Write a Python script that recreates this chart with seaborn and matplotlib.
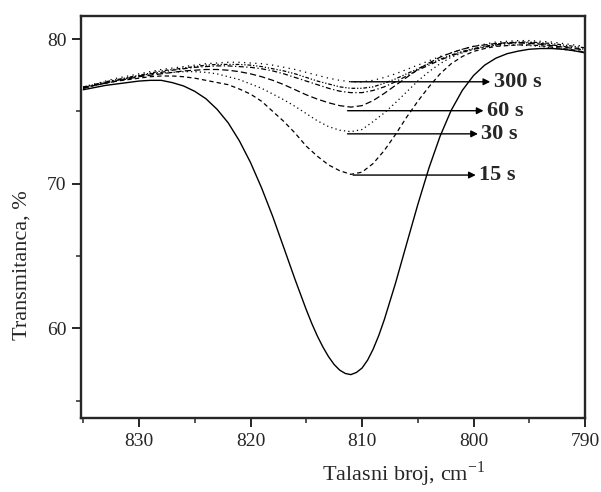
import numpy as np
import pandas as pd
import matplotlib
matplotlib.use("Agg")
import matplotlib.pyplot as plt
from matplotlib.ticker import MultipleLocator
import seaborn as sns

# wavenumber grid, cm^-1 (835 -> 790)
wavenumber = np.arange(835, 789, -1)

# solid curve (0 s) has a few extra points around its minimum
wavenumber_0s = [835, 834, 833, 832, 831, 830, 829, 828, 827, 826,
                 825, 824, 823, 822, 821, 820, 819, 818, 817, 816,
                 815, 814.5, 814, 813.5, 813, 812.5, 812, 811.5, 811, 810.5,
                 810, 809.5, 809, 808.5, 808, 807, 806, 805, 804, 803,
                 802, 801, 800, 799, 798, 797, 796, 795, 794, 793,
                 792, 791, 790]
t_0s = [76.5, 76.65, 76.8, 76.9, 77.0, 77.1, 77.15, 77.15, 76.99, 76.76,
        76.39, 75.88, 75.15, 74.21, 72.97, 71.47, 69.70, 67.72, 65.55, 63.37,
        61.29, 60.33, 59.46, 58.7, 58.04, 57.5, 57.11, 56.88, 56.8, 56.95,
        57.25, 57.8, 58.56, 59.5, 60.60, 63.11, 65.84, 68.55, 71.08, 73.28,
        75.08, 76.46, 77.48, 78.20, 78.68, 78.99, 79.17, 79.3, 79.35, 79.35,
        79.3, 79.2, 79.05]

# transmittance (%)
t_15s = [76.6, 76.8, 76.95, 77.1, 77.2, 77.3, 77.4, 77.45, 77.45, 77.4,
         77.3, 77.15, 77.0, 76.85, 76.55, 76.2, 75.7, 75.0, 74.3, 73.5,
         72.6, 71.9, 71.3, 70.9, 70.65,
         70.8, 71.4, 72.3, 73.4, 74.6, 75.7, 76.7, 77.6, 78.3, 78.8,
         79.15, 79.35, 79.5, 79.55, 79.6, 79.6, 79.55, 79.45, 79.35, 79.25, 79.1]
t_30s = [76.6, 76.8, 77.0, 77.15, 77.3, 77.45, 77.55, 77.65, 77.7, 77.75,
         77.75, 77.7, 77.6, 77.4, 77.2, 76.9, 76.6, 76.2, 75.8, 75.35,
         74.85, 74.35, 73.95, 73.7, 73.6,
         73.75, 74.3, 74.9, 75.6, 76.35, 77.1, 77.75, 78.3, 78.75, 79.05,
         79.3, 79.45, 79.55, 79.6, 79.6, 79.55, 79.5, 79.4, 79.3, 79.2, 79.1]
t_60s = [76.6, 76.8, 76.95, 77.1, 77.25, 77.4, 77.5, 77.6, 77.7, 77.8,
         77.85, 77.9, 77.9, 77.85, 77.75, 77.6, 77.4, 77.15, 76.85, 76.5,
         76.15, 75.85, 75.6, 75.4, 75.3,
         75.4, 75.75, 76.25, 76.8, 77.35, 77.9, 78.35, 78.75, 79.05, 79.3,
         79.5, 79.6, 79.7, 79.75, 79.75, 79.7, 79.65, 79.55, 79.45, 79.35, 79.25]
t_120s = [76.65, 76.85, 77.0, 77.15, 77.3, 77.45, 77.6, 77.7, 77.85, 77.95,
          78.05, 78.1, 78.15, 78.15, 78.1, 78.05, 77.95, 77.8, 77.6, 77.35,
          77.1, 76.85, 76.6, 76.4, 76.3,
          76.3, 76.45, 76.7, 77.05, 77.45, 77.85, 78.2, 78.55, 78.85, 79.1,
          79.3, 79.45, 79.6, 79.7, 79.75, 79.75, 79.7, 79.6, 79.5, 79.4, 79.3]
t_180s = [76.7, 76.85, 77.05, 77.2, 77.35, 77.5, 77.65, 77.8, 77.9, 78.0,
          78.1, 78.2, 78.25, 78.25, 78.25, 78.2, 78.1, 77.95, 77.8, 77.6,
          77.35, 77.1, 76.9, 76.7, 76.6,
          76.6, 76.7, 76.95, 77.25, 77.6, 77.95, 78.3, 78.6, 78.9, 79.15,
          79.35, 79.5, 79.65, 79.75, 79.8, 79.8, 79.75, 79.7, 79.6, 79.5, 79.4]
t_300s = [76.7, 76.9, 77.1, 77.3, 77.45, 77.6, 77.75, 77.9, 78.0, 78.1,
          78.2, 78.3, 78.35, 78.4, 78.4, 78.35, 78.3, 78.2, 78.05, 77.9,
          77.7, 77.5, 77.3, 77.15, 77.05,
          77.05, 77.15, 77.35, 77.6, 77.9, 78.2, 78.5, 78.8, 79.05, 79.3,
          79.5, 79.65, 79.8, 79.85, 79.9, 79.9, 79.85, 79.8, 79.7, 79.6, 79.5]

# arrow labels: text, arrow start x, y, arrow head x
label_text = ["300 s", "60 s", "30 s", "15 s"]
label_start_x = [811.0, 811.3, 811.3, 810.8]
label_y = [77.05, 75.05, 73.45, 70.6]
label_head_x = [798.5, 799.1, 799.6, 799.8]

sns.set_style("ticks")
plt.rcParams['font.family'] = ['Liberation Serif', 'DejaVu Serif']
plt.rcParams['mathtext.fontset'] = 'stix'

fig = plt.figure(figsize=(6.01, 4.92), dpi=100)
ax = fig.add_axes([0.1348, 0.1504, 0.8386, 0.8171])

sns.lineplot(x=wavenumber_0s, y=t_0s, ax=ax, color='black', linewidth=1.0,
             sort=False)

dashed = [
    (t_15s, (3.5, 2.5)),
    (t_30s, (1, 2.5)),
    (t_60s, (5, 2.5)),
    (t_120s, (4, 2, 1, 2)),
    (t_180s, (3, 1.5, 1, 1.5, 1, 1.5)),
    (t_300s, (1, 3.5)),
]
for vals, dash in dashed:
    sns.lineplot(x=wavenumber, y=vals, ax=ax, color='black', linewidth=0.9,
                 sort=False)
    ax.lines[-1].set_dashes(dash)

for txt, x0, y0, x1 in zip(label_text, label_start_x, label_y, label_head_x):
    ax.annotate('', xy=(x1, y0), xytext=(x0, y0),
                arrowprops=dict(arrowstyle='-|>', color='black', lw=1.0,
                                mutation_scale=10, shrinkA=0, shrinkB=0))
    ax.text(x1 - 0.3, y0, txt, fontsize=16, fontweight='bold',
            ha='left', va='center')

ax.set_xlim(835.2, 790)
ax.set_ylim(53.8, 81.6)
ax.xaxis.set_major_locator(MultipleLocator(10))
ax.xaxis.set_minor_locator(MultipleLocator(5))
ax.yaxis.set_major_locator(MultipleLocator(10))
ax.yaxis.set_minor_locator(MultipleLocator(5))
ax.tick_params(which='major', direction='out', length=6.5, width=1.4,
               labelsize=14, pad=4, top=False, right=False)
ax.tick_params(which='minor', direction='out', length=3.5, width=1.1,
               top=False, right=False)
for sp in ax.spines.values():
    sp.set_linewidth(1.7)
    sp.set_visible(True)

ax.set_xlabel('Talasni broj, cm$^{\\mathregular{-1}}$', fontsize=16)
ax.set_ylabel('Transmitanca, %', fontsize=16)
ax.xaxis.set_label_coords(0.64, -0.105)
ax.yaxis.set_label_coords(-0.098, 0.38)

fig.savefig('out.png', dpi=100)
